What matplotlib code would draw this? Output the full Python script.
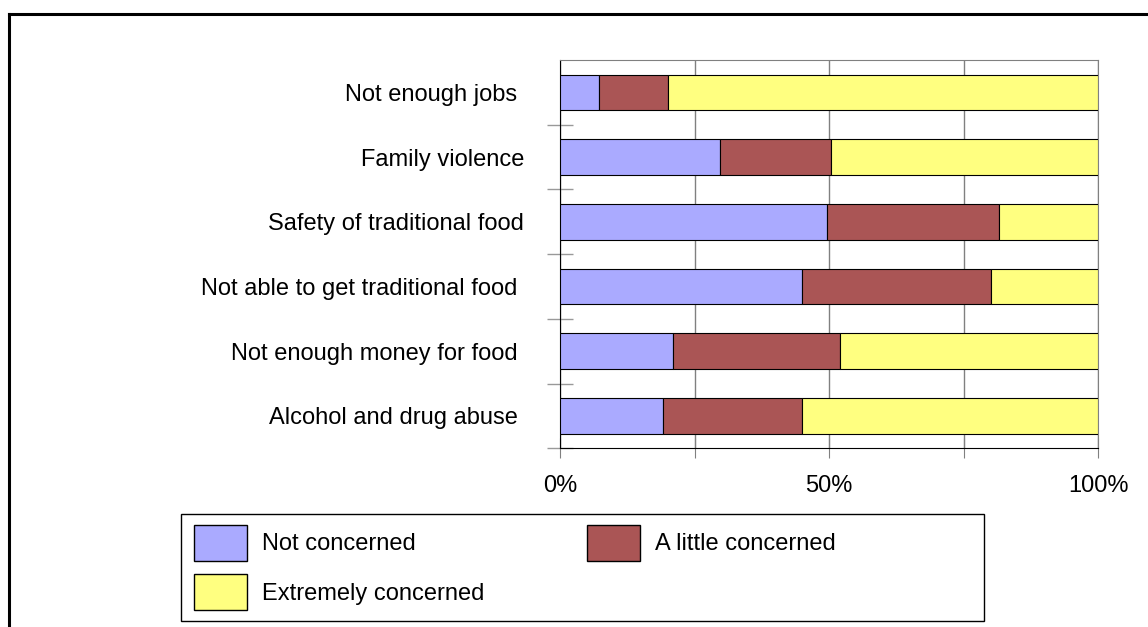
import numpy as np
import matplotlib
matplotlib.use("Agg")
import matplotlib.pyplot as plt
from matplotlib.patches import Rectangle, Patch
from matplotlib.lines import Line2D

plt.rcParams['font.family'] = ['Liberation Sans', 'DejaVu Sans']

# data (percent)
categories = ["Not enough jobs ", "Family violence", "Safety of traditional food",
              "Not able to get traditional food ", "Not enough money for food ",
              "Alcohol and drug abuse "]
not_concerned = [7.1, 29.7, 49.5, 45.0, 21.0, 19.0]
little_concerned = [12.9, 20.7, 32.1, 35.0, 31.0, 26.0]
extremely_concerned = [80.0, 49.6, 18.4, 20.0, 48.0, 55.0]
series_names = ["Not concerned", "A little concerned", "Extremely concerned"]
colors = ["#AAAAFF", "#AA5555", "#FFFF80"]
xtick_vals = [0, 25, 50, 75, 100]
xtick_labels = ["0%", "", "50%", "", "100%"]

fig = plt.figure(figsize=(11.48, 6.27), dpi=100)
ax = fig.add_axes([0.4881, 0.285, 0.4684, 0.6193])

y = np.arange(len(categories))
left = np.zeros(len(categories))
for vals, name, col in zip([not_concerned, little_concerned, extremely_concerned], series_names, colors):
    ax.barh(y, vals, left=left, height=0.55, color=col, edgecolor="black", linewidth=0.8, label=name, zorder=3)
    left += np.array(vals)

ax.set_xlim(0, 100)
ax.set_ylim(len(categories) - 0.5, -0.5)

ax.set_xticks(xtick_vals)
ax.set_xticklabels(xtick_labels, fontsize=17)
ax.tick_params(axis="x", direction="inout", length=15, color="#808080", pad=12)

ax.set_yticks(y)
ax.set_yticklabels(categories, fontsize=17)
ax.tick_params(axis="y", which="major", length=0, pad=26)
ax.set_yticks(y + 0.5, minor=True)
ax.tick_params(axis="y", which="minor", direction="inout", length=19, color="#999999", width=1)

ax.xaxis.grid(True, color="#808080", linewidth=1)
ax.set_axisbelow(True)
ax.spines["top"].set_color("#808080")
ax.spines["right"].set_color("#808080")
ax.spines["left"].set_color("black")
ax.spines["bottom"].set_color("black")

# legend box
fig.add_artist(Rectangle((181 / 1148, 1 - 621 / 627), 803 / 1148, 107 / 627,
                         transform=fig.transFigure, facecolor="white", edgecolor="black", linewidth=1))
handles = [Patch(facecolor=colors[0], edgecolor="black"),
           Patch(facecolor=colors[2], edgecolor="black"),
           Patch(facecolor=colors[1], edgecolor="black")]
labels = [series_names[0], series_names[2], series_names[1]]
fig.legend(handles, labels, ncol=2, frameon=False, fontsize=17,
           loc="upper left", bbox_to_anchor=(194 / 1148, 1 - 524.5 / 627),
           handlelength=2.25, handleheight=1.97, handletextpad=0.64,
           columnspacing=4.32, labelspacing=0.57, borderpad=0, borderaxespad=0)

# outer frame (top and left edges)
fig.add_artist(Line2D([8.8 / 1148, 1], [1 - 13.8 / 627, 1 - 13.8 / 627], transform=fig.transFigure, color="black", linewidth=2.2))
fig.add_artist(Line2D([8.8 / 1148, 8.8 / 1148], [0, 1 - 13.8 / 627], transform=fig.transFigure, color="black", linewidth=2.2))

fig.savefig("out.png", dpi=100)
